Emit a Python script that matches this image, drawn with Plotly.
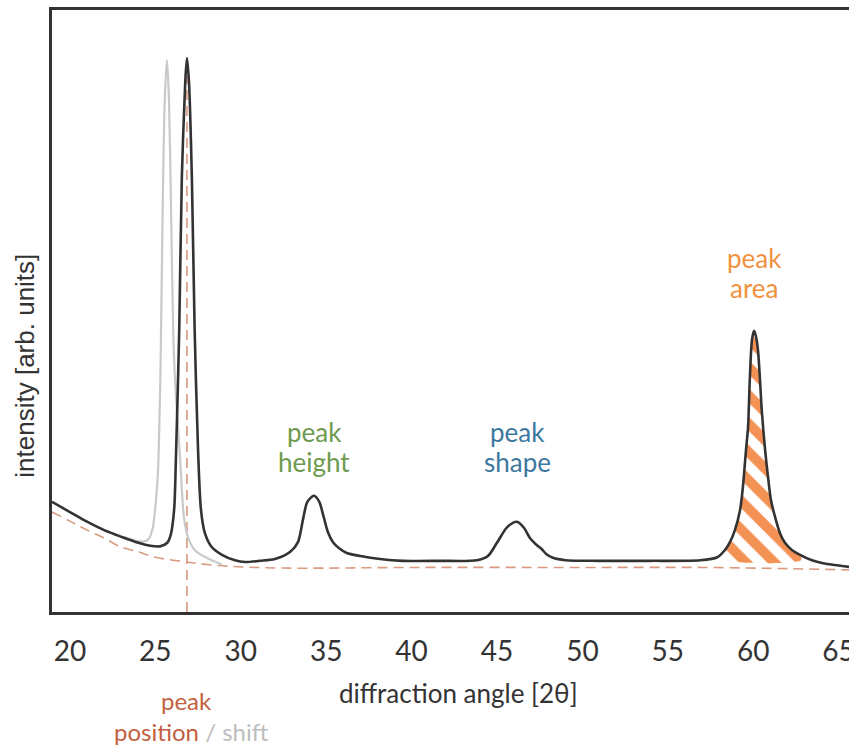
import plotly.graph_objects as go

# ---- data ----
main_x = [18.95, 20.0, 21.0, 22.0, 23.0, 24.0, 24.7, 25.27, 25.7, 25.9, 26.1, 26.2, 26.4, 26.55, 26.75,
          26.85, 26.97, 27.14, 27.3, 27.5, 27.67, 27.9, 28.3, 28.9, 29.66, 30.25, 31.1, 32.0, 32.9,
          33.35, 33.64, 33.9, 34.29, 34.6, 34.8, 35.1, 35.4, 35.8, 36.2, 37.0, 38.15, 39.5, 41.66,
          43.83, 44.47, 45.0, 45.6, 46.17, 46.58, 46.93, 47.34, 47.6, 47.9, 48.28, 49.0, 51.0, 53.96,
          56.9, 57.9, 58.35, 58.64, 58.93, 59.23, 59.4, 59.58, 59.7, 59.8, 59.93, 60.05, 60.16, 60.28,
          60.4, 60.5, 60.7, 60.87, 61.04, 61.28, 61.57, 61.86, 62.27, 62.74, 63.44, 64.09, 64.79, 65.61]
main_y = [18.3, 16.6, 15.0, 13.6, 12.5, 11.5, 11.0, 10.9, 11.5, 12.8, 17.0, 25.0, 47.0, 72.0, 88.0,
          92.0, 88.0, 72.0, 47.0, 27.0, 17.0, 13.1, 10.8, 9.5, 8.6, 8.3, 8.5, 8.8, 10.0,
          11.6, 15.3, 18.3, 19.3, 18.3, 16.4, 13.3, 11.6, 10.5, 9.8, 9.3, 8.8, 8.5, 8.5,
          8.6, 9.3, 11.5, 14.1, 15.0, 14.0, 12.3, 11.1, 10.5, 9.6, 9.0, 8.6, 8.5, 8.5,
          8.6, 9.1, 10.3, 11.6, 13.6, 16.9, 20.8, 26.9, 30.7, 38.5, 45.2, 46.7, 45.8, 43.5,
          38.5, 33.6, 26.9, 22.4, 18.6, 15.8, 13.1, 11.5, 10.3, 9.5, 8.6, 8.1, 7.8, 7.5]

shift_x = [23.2, 23.8, 24.3, 24.6, 24.85, 25.0, 25.15, 25.3, 25.42, 25.55, 25.68, 25.8, 25.93,
           26.06, 26.2, 26.44, 26.67, 26.9, 27.3, 27.8, 28.3, 28.9]
shift_y = [12.4, 11.9, 11.7, 12.1, 14.0, 17.4, 23.0, 40.0, 65.0, 85.0, 91.7, 85.0, 65.0,
           45.0, 36.0, 26.0, 15.8, 12.5, 10.3, 9.3, 8.6, 7.9]

bg_x = [18.95, 20.0, 21.0, 22.0, 22.9, 24.0, 25.0, 26.85, 28.0, 29.3, 32.4, 40.0, 50.0, 57.0, 62.0, 65.61]
bg_y = [16.6, 15.1, 13.6, 12.3, 10.9, 10.0, 9.1, 8.3, 7.9, 7.6, 7.3, 7.4, 7.4, 7.4, 7.2, 7.0]

peak_position = 26.85
peak_position_top = 89.0
area_bounds = [58.2, 62.8]
area_base = [8.8, 8.6]

tick_vals = [20, 25, 30, 35, 40, 45, 50, 55, 60, 65]

DARK = "#333333"
GREY = "#C9C9C9"
SALMON = "#D99A80"
ORANGE = "#F39254"

fig = go.Figure()

# hatched peak area
ax = [x for x in main_x if area_bounds[0] <= x <= area_bounds[1]]
ay = [y for x, y in zip(main_x, main_y) if area_bounds[0] <= x <= area_bounds[1]]
poly_x = [area_bounds[0]] + ax + [area_bounds[1], area_bounds[0]]
poly_y = [area_base[0]] + ay + [area_base[1], area_base[0]]
fig.add_trace(go.Scatter(
    x=poly_x, y=poly_y, mode="lines", fill="toself", line=dict(width=0, shape="spline", smoothing=0.8),
    fillcolor="white",
    fillpattern=dict(shape="\\", fgcolor=ORANGE, bgcolor="white", size=20, solidity=0.5, fillmode="replace"),
    hoverinfo="skip", showlegend=False))

# background
fig.add_trace(go.Scatter(x=bg_x, y=bg_y, mode="lines",
                         line=dict(color=SALMON, width=1.6, dash="10px,6px", shape="spline", smoothing=1),
                         showlegend=False))
# peak position line
fig.add_trace(go.Scatter(x=[peak_position, peak_position], y=[0, peak_position_top], mode="lines",
                         line=dict(color=SALMON, width=1.6, dash="10px,6px"), showlegend=False))
# shifted pattern
fig.add_trace(go.Scatter(x=shift_x, y=shift_y, mode="lines",
                         line=dict(color=GREY, width=2.2, shape="spline", smoothing=0.8),
                         showlegend=False))
# main pattern
fig.add_trace(go.Scatter(x=main_x, y=main_y, mode="lines",
                         line=dict(color=DARK, width=2.6, shape="spline", smoothing=0.8),
                         showlegend=False))

FONT = "Lato"
GREEN, BLUE, AREA, POS = "#6E9A4E", "#3C78A0", "#F0923F", "#C2603E"
ann = [
    dict(xref="x", yref="y", x=34.3, y=29.9, text="peak", color=GREEN, size=26, yanchor="middle"),
    dict(xref="x", yref="y", x=34.3, y=24.9, text="height", color=GREEN, size=26, yanchor="middle"),
    dict(xref="x", yref="y", x=46.2, y=29.9, text="peak", color=BLUE, size=26, yanchor="middle"),
    dict(xref="x", yref="y", x=46.2, y=24.9, text="shape", color=BLUE, size=26, yanchor="middle"),
    dict(xref="x", yref="y", x=60.05, y=58.8, text="peak", color=AREA, size=26, yanchor="middle"),
    dict(xref="x", yref="y", x=60.05, y=53.8, text="area", color=AREA, size=26, yanchor="middle"),
    dict(xref="x", yref="paper", x=26.85, y=-0.1728, text="peak", color=POS, size=24, yanchor="bottom"),
    dict(xref="x", yref="paper", x=27.1, y=-0.1728,
         text="position<span style='color:#BDBDBD'> / shift</span>", color=POS, size=24, yanchor="top"),
]
for a in ann:
    c = a.pop("color")
    s = a.pop("size")
    fig.add_annotation(showarrow=False, align="center", xanchor="center", borderpad=0,
                       font=dict(family=FONT, size=s, color=c), **a)

fig.add_annotation(xref="paper", yref="y", x=-0.034, y=40.9, text="intensity [arb. units]",
                   textangle=-90, showarrow=False, xanchor="center", yanchor="middle",
                   font=dict(family="Liberation Sans", size=26, color=DARK))
fig.add_annotation(xref="paper", yref="paper", x=0.5105, y=-0.1346, text="diffraction angle [2θ]",
                   showarrow=False, xanchor="center", yanchor="middle",
                   font=dict(family=FONT, size=26, color=DARK))

fig.update_layout(
    width=849, height=749,
    margin=dict(l=52, r=0, t=10, b=137, autoexpand=False),
    paper_bgcolor="white", plot_bgcolor="white",
    xaxis=dict(range=[18.95, 65.61], tickvals=tick_vals, showgrid=False, zeroline=False,
               showline=True, linecolor=DARK, linewidth=3, mirror=True, ticks="",
               ticklabelstandoff=12, ticklabeloverflow="allow", automargin=False,
               tickfont=dict(family=FONT, size=28, color=DARK)),
    yaxis=dict(range=[0, 100], showgrid=False, zeroline=False, showticklabels=False,
               showline=True, linecolor=DARK, linewidth=3, ticks="", automargin=False),
)

fig.write_html("out.html")
